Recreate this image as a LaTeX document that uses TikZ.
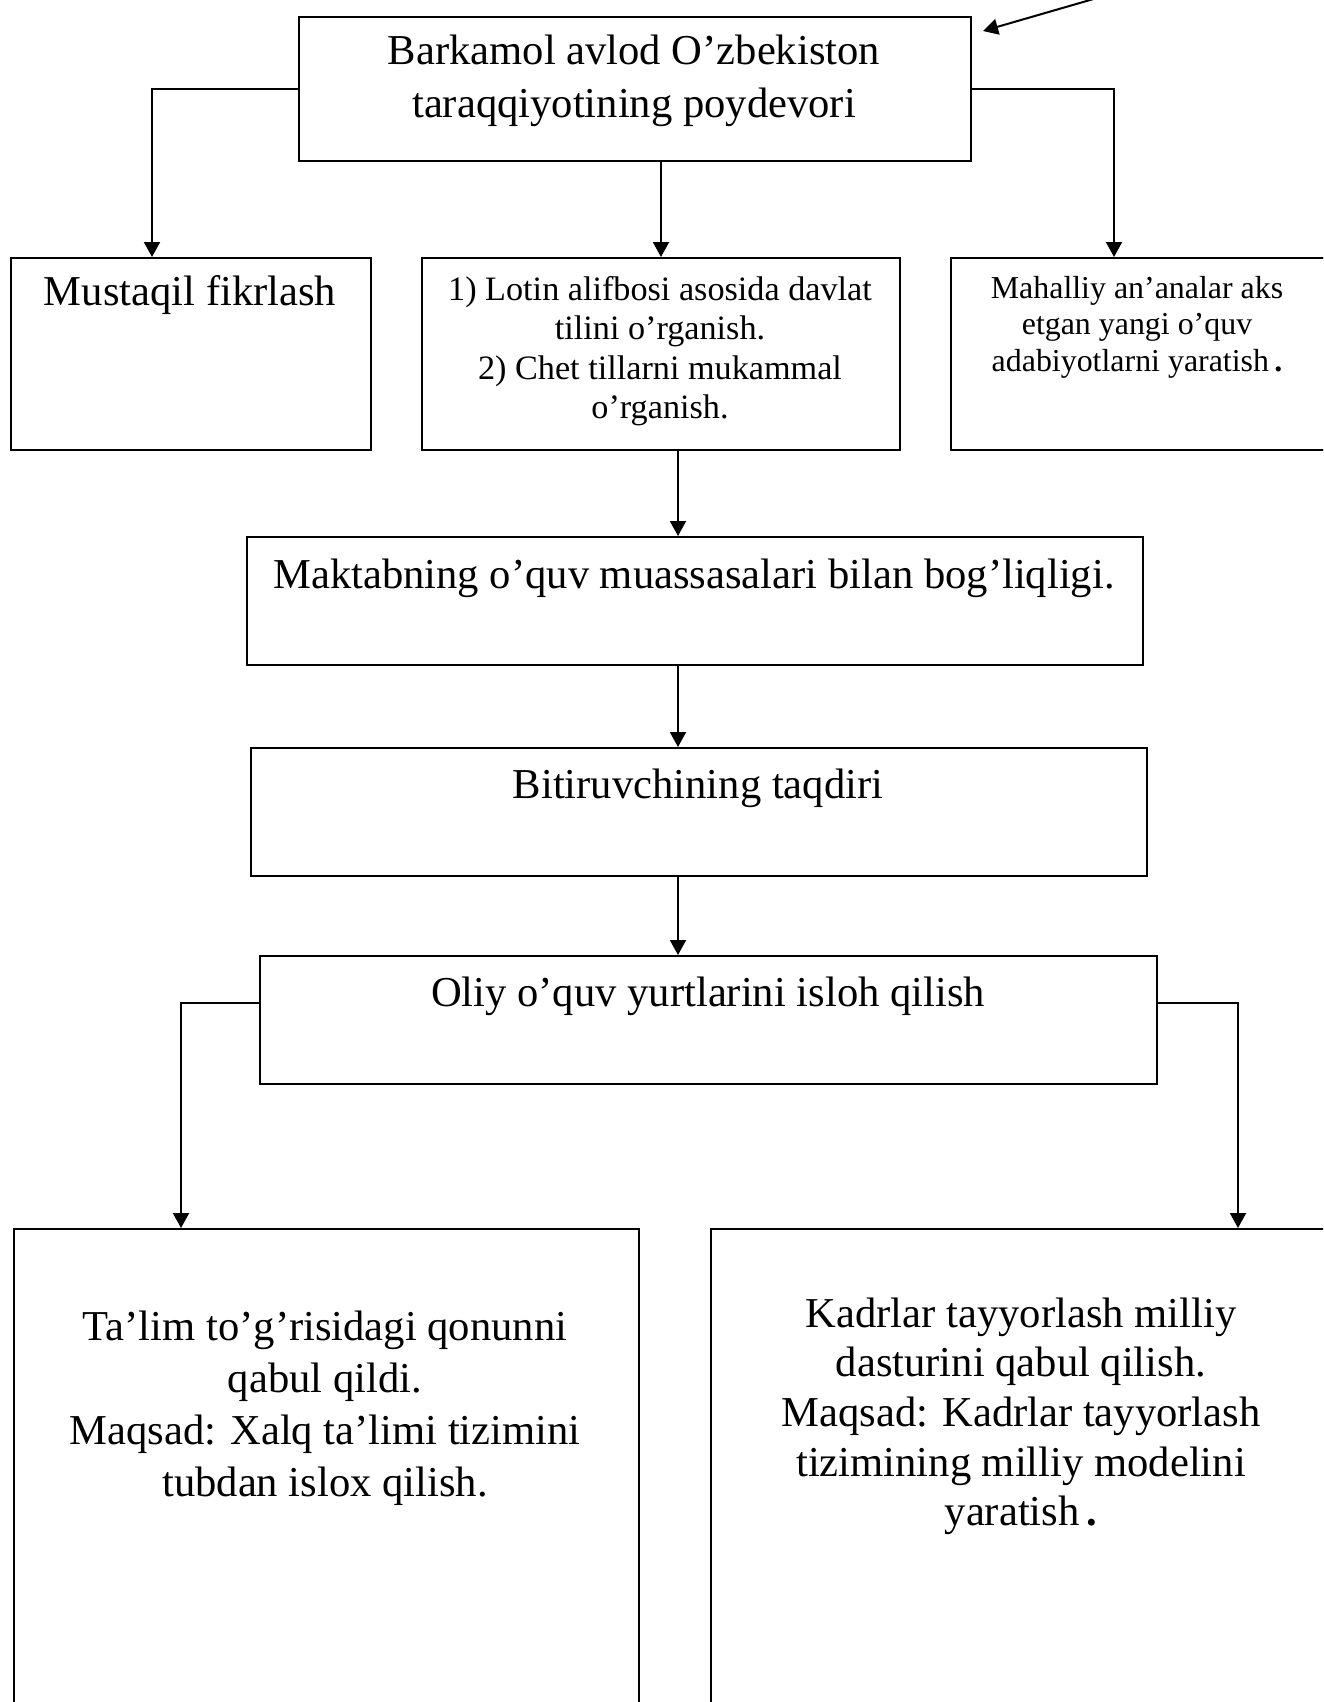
\documentclass[tikz,border=0pt]{standalone}
\usepackage{fontspec}
\setmainfont{Liberation Serif}
\usetikzlibrary{arrows.meta,calc}
\newcommand{\mlines}[1]{\begin{tabular}[t]{@{}c@{}}#1\end{tabular}}
\begin{document}
\begin{tikzpicture}[x=1pt,y=-1pt,
  box/.style={draw, line width=2pt, inner sep=0pt, anchor=north west},
  lbl/.style={inner sep=0pt, anchor=base},
  big/.style={font=\fontsize{42.6}{52}\selectfont},
  bigb/.style={font=\fontsize{42.6}{49.7}\selectfont},
  mid/.style={font=\fontsize{34.2}{39.6}\selectfont},
  small/.style={font=\fontsize{31.9}{36.5}\selectfont},
  arr/.style={line width=2pt, -{Triangle[length=15pt,width=16pt]}}]
\useasboundingbox (0,0) rectangle (1323,1702);
\clip (0,0) rectangle (1323,1702);
\fill[white] (0,0) rectangle (1323,1702);
% boxes
\node[box, minimum width=672pt, minimum height=144pt] (A) at (298,16) {};
\node[box, minimum width=360pt, minimum height=192pt] (B) at (10,257) {};
\node[box, minimum width=478pt, minimum height=192pt] (C) at (421,257) {};
\node[box, minimum width=420pt, minimum height=192pt] (D) at (950,257) {};
\node[box, minimum width=896pt, minimum height=128pt] (E) at (246,536) {};
\node[box, minimum width=896pt, minimum height=128pt] (F) at (250,747) {};
\node[box, minimum width=897pt, minimum height=128pt] (G) at (259,955) {};
\node[box, minimum width=625pt, minimum height=540pt] (H) at (13,1228) {};
\node[box, minimum width=650pt, minimum height=540pt] (I) at (710,1228) {};
% texts
\node[lbl, big] (tA) at (634,65) {\mlines{Barkamol avlod O’zbekiston\\taraqqiyotining poydevori}};
\node[lbl, big] (tB) at (190,305) {Mustaqil fikrlash};
\node[lbl, mid] (tC) at (660,300) {\mlines{1) Lotin alifbosi asosida davlat\\tilini o’rganish.\\2) Chet tillarni mukammal\\o’rganish.}};
\node[lbl, small] (tD) at (1137,298) {\mlines{Mahalliy an’analar aks\\etgan yangi o’quv\\adabiyotlarni yaratish\,{\bfseries .}}};
\node[lbl, big] (tE) at (694,588) {Maktabning o’quv muassasalari bilan bog’liqligi.};
\node[lbl, big] (tF) at (698,798) {Bitiruvchining taqdiri};
\node[lbl, big] (tG) at (708,1006) {Oliy o’quv yurtlarini isloh qilish};
\node[lbl, big] (tH) at (325,1340) {\mlines{Ta’lim to’g’risidagi qonunni\\qabul qildi.\\Maqsad: Xalq ta’limi tizimini\\tubdan islox qilish.}};
\node[lbl, bigb] (tI) at (1021,1327) {\mlines{Kadrlar tayyorlash milliy\\dasturini qabul qilish.\\Maqsad: Kadrlar tayyorlash\\tizimining milliy modelini\\yaratish\,{\bfseries .}}};
% helper coordinates
\coordinate (bIn) at (152,257);
\coordinate (dIn) at (1114,257);
\coordinate (colX) at (678,0);
\coordinate (gL) at (259,1003);
\coordinate (gR) at (1156,1003);
\coordinate (hIn) at (181,1228);
\coordinate (iIn) at (1238,1228);
\coordinate (src) at (1097,-2);
\coordinate (aTip) at (983,31);
% connectors
\draw[arr] (A.west) -| (bIn);
\draw[arr] (A.south -| C.north) -- (C.north);
\draw[arr] (A.east) -| (dIn);
\draw[arr] (C.south -| colX) -- (E.north -| colX);
\draw[arr] (E.south -| colX) -- (F.north -| colX);
\draw[arr] (F.south -| colX) -- (G.north -| colX);
\draw[arr] (gL) -| (hIn);
\draw[arr] (gR) -| (iIn);
\draw[arr] (src) -- (aTip);
\end{tikzpicture}
\end{document}
